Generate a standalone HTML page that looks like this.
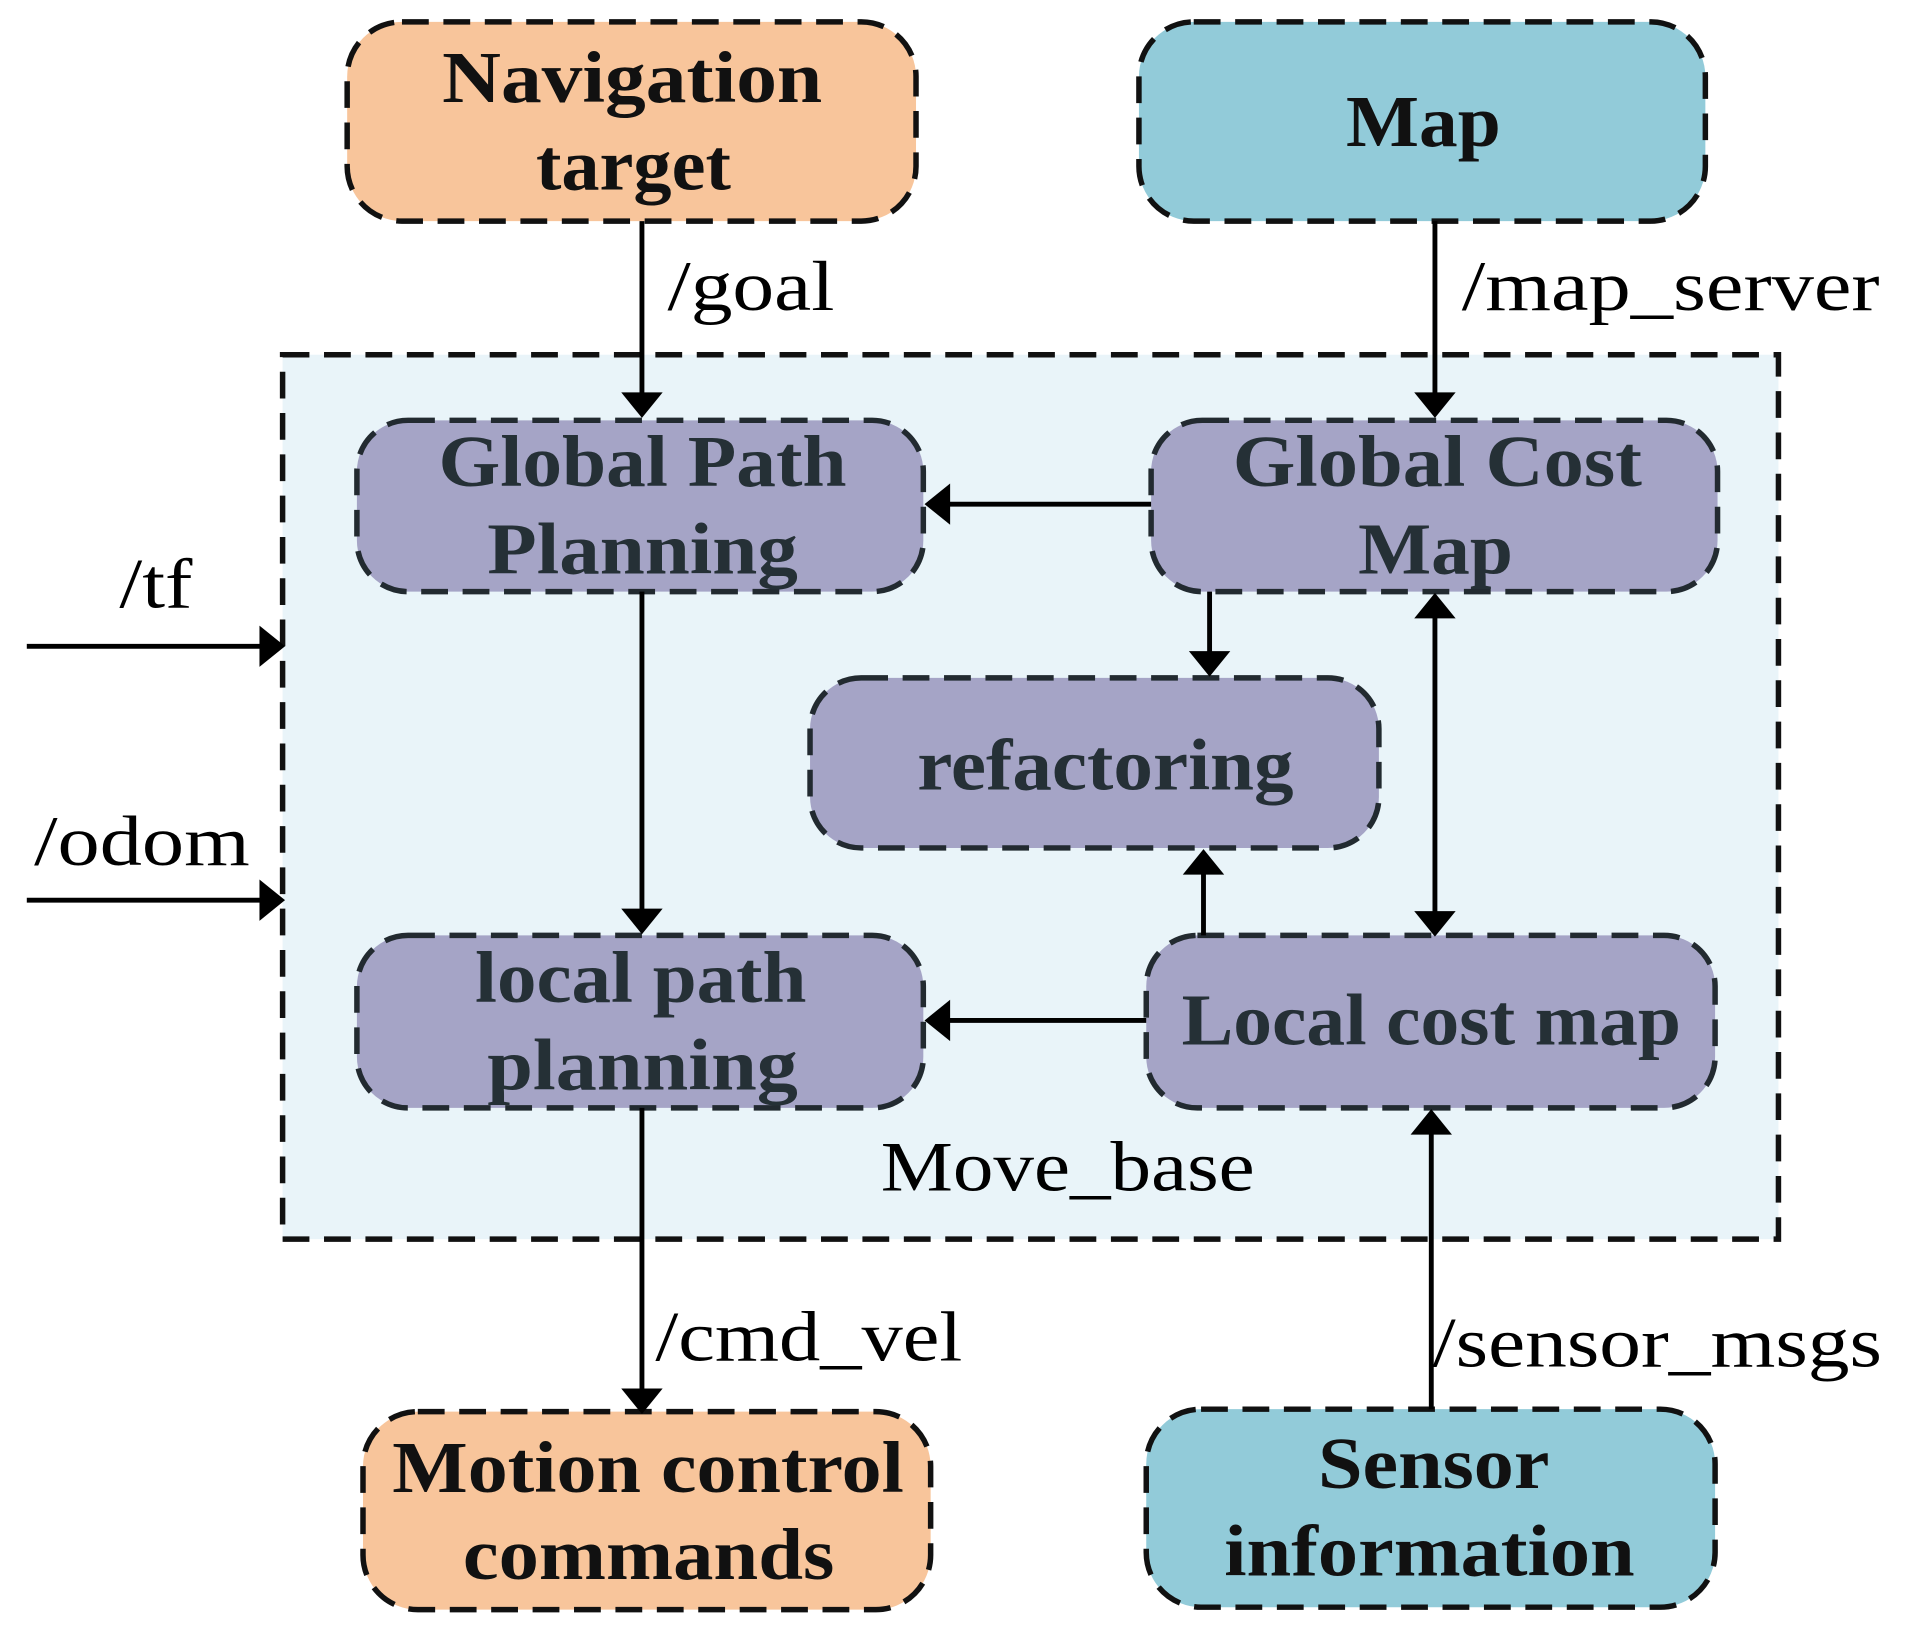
<!DOCTYPE html>
<html><head><style>html,body{margin:0;padding:0;background:#fff}svg{display:block}</style></head>
<body>
<svg width="1910" height="1640" viewBox="0 0 1568 1350" preserveAspectRatio="none" xmlns="http://www.w3.org/2000/svg">
<g stroke="#111" stroke-width="4.5" stroke-dasharray="22 12">
<rect x="232" y="292" width="1228" height="728" fill="#e9f4f9"/>
<rect x="285" y="18" width="467" height="164" rx="45" fill="#f8c59b"/>
<rect x="935" y="18" width="465" height="164" rx="45" fill="#92cbd9"/>
<rect x="298" y="1162" width="466" height="163" rx="45" fill="#f8c59b"/>
<rect x="941" y="1160" width="467" height="163" rx="45" fill="#92cbd9"/>
</g>
<g stroke="#222a30" stroke-width="4.5" stroke-dasharray="22 12" fill="#a5a4c6">
<rect x="293" y="346" width="465" height="141" rx="42"/>
<rect x="945" y="346" width="465" height="141" rx="42"/>
<rect x="665" y="558" width="467" height="140" rx="42"/>
<rect x="293" y="770" width="465" height="142" rx="42"/>
<rect x="941" y="770" width="467" height="142" rx="42"/>
</g>
<g stroke="#000" stroke-width="4" fill="none">
<line x1="527" y1="182" x2="527" y2="325"/>
<line x1="1178" y1="182" x2="1178" y2="325"/>
<line x1="945" y1="415" x2="778" y2="415"/>
<line x1="993" y1="487" x2="993" y2="538"/>
<line x1="527" y1="487" x2="527" y2="750"/>
<line x1="1178" y1="507" x2="1178" y2="752"/>
<line x1="988" y1="770" x2="988" y2="718"/>
<line x1="941" y1="840" x2="778" y2="840"/>
<line x1="527" y1="912" x2="527" y2="1145"/>
<line x1="1175" y1="1160" x2="1175" y2="932"/>
<line x1="22" y1="532" x2="215" y2="532"/>
<line x1="22" y1="741" x2="215" y2="741"/>
</g>
<g fill="#000">
<polygon points="510,323 544,323 527,344"/>
<polygon points="1161,323 1195,323 1178,344"/>
<polygon points="780,398 780,432 759,415"/>
<polygon points="976,536 1010,536 993,557"/>
<polygon points="510,748 544,748 527,769"/>
<polygon points="1161,509 1195,509 1178,488"/>
<polygon points="1161,750 1195,750 1178,771"/>
<polygon points="971,720 1005,720 988,699"/>
<polygon points="780,823 780,857 759,840"/>
<polygon points="510,1143 544,1143 527,1164"/>
<polygon points="1158,934 1192,934 1175,913"/>
<polygon points="213,515 213,549 234,532"/>
<polygon points="213,724 213,758 234,741"/>
</g>
<g font-family="'Liberation Serif',serif" font-weight="bold" font-size="60" fill="#111" lengthAdjust="spacingAndGlyphs">
<text x="363" y="84" textLength="312" lengthAdjust="spacingAndGlyphs">Navigation</text>
<text x="440" y="156" textLength="160" lengthAdjust="spacingAndGlyphs">target</text>
<text x="1105" y="120" textLength="127" lengthAdjust="spacingAndGlyphs">Map</text>
<text x="322" y="1228" textLength="420" lengthAdjust="spacingAndGlyphs">Motion control</text>
<text x="380" y="1300" textLength="305" lengthAdjust="spacingAndGlyphs">commands</text>
<text x="1082" y="1225" textLength="190" lengthAdjust="spacingAndGlyphs">Sensor</text>
<text x="1005" y="1297" textLength="337" lengthAdjust="spacingAndGlyphs">information</text>
</g>
<g font-family="'Liberation Serif',serif" font-weight="bold" font-size="60" fill="#253036">
<text x="360" y="400" textLength="335" lengthAdjust="spacingAndGlyphs">Global Path</text>
<text x="400" y="472" textLength="255" lengthAdjust="spacingAndGlyphs">Planning</text>
<text x="1012" y="400" textLength="336" lengthAdjust="spacingAndGlyphs">Global Cost</text>
<text x="1115" y="472" textLength="127" lengthAdjust="spacingAndGlyphs">Map</text>
<text x="753" y="650" textLength="309" lengthAdjust="spacingAndGlyphs">refactoring</text>
<text x="390" y="825" textLength="272" lengthAdjust="spacingAndGlyphs">local path</text>
<text x="400" y="897" textLength="255" lengthAdjust="spacingAndGlyphs">planning</text>
<text x="970" y="860" textLength="410" lengthAdjust="spacingAndGlyphs">Local cost map</text>
</g>
<g font-family="'Liberation Serif',serif" font-size="58" fill="#000">
<text x="548" y="255" textLength="137" lengthAdjust="spacingAndGlyphs">/goal</text>
<text x="1200" y="255" textLength="343" lengthAdjust="spacingAndGlyphs">/map_server</text>
<text x="98" y="500" textLength="60" lengthAdjust="spacingAndGlyphs">/tf</text>
<text x="28" y="712" textLength="177" lengthAdjust="spacingAndGlyphs">/odom</text>
<text x="723" y="980" textLength="307" lengthAdjust="spacingAndGlyphs">Move_base</text>
<text x="538" y="1120" textLength="252" lengthAdjust="spacingAndGlyphs">/cmd_vel</text>
<text x="1176" y="1125" textLength="369" lengthAdjust="spacingAndGlyphs">/sensor_msgs</text>
</g>
</svg>
</body></html>
